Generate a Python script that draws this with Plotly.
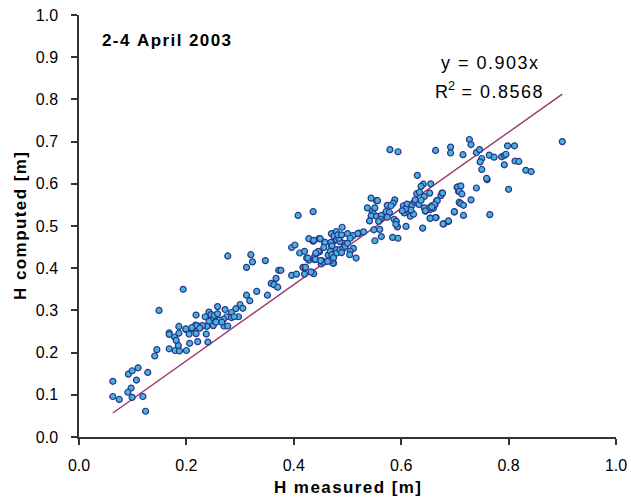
import plotly.graph_objects as go
import numpy as np

# Measured / computed wave heights (m)
pts = [
    # lower-left
    (0.063,0.132),(0.063,0.096),(0.075,0.089),(0.092,0.149),(0.099,0.157),(0.110,0.164),
    (0.107,0.135),(0.097,0.116),(0.091,0.106),(0.099,0.094),(0.119,0.096),(0.128,0.153),
    (0.124,0.061),(0.141,0.192),(0.145,0.207),(0.149,0.300),(0.194,0.350),
    (0.168,0.209),(0.179,0.205),(0.187,0.204),(0.200,0.205),(0.185,0.217),(0.168,0.247),
    (0.168,0.243),(0.178,0.237),(0.181,0.229),(0.186,0.262),(0.186,0.246),(0.199,0.255),
    (0.211,0.257),(0.217,0.265),(0.222,0.263),(0.240,0.225),(0.221,0.226),(0.206,0.222),
    # dense cluster 0.2-0.35
    (0.218,0.289),(0.258,0.309),(0.277,0.429),(0.320,0.432),(0.323,0.415),(0.312,0.402),
    (0.347,0.418),(0.408,0.525),(0.436,0.534),(0.372,0.395),(0.376,0.395),(0.367,0.376),
    (0.358,0.364),(0.363,0.361),(0.370,0.355),(0.331,0.345),(0.312,0.336),(0.318,0.323),
    (0.351,0.336),(0.300,0.314),(0.292,0.304),(0.305,0.305),(0.284,0.295),(0.272,0.302),
    (0.242,0.296),(0.297,0.285),(0.275,0.285),(0.284,0.283),(0.289,0.285),(0.269,0.279),
    (0.261,0.277),(0.250,0.283),(0.246,0.282),(0.235,0.285),(0.242,0.274),(0.250,0.264),
    (0.238,0.262),(0.230,0.264),(0.219,0.264),(0.210,0.259),(0.199,0.256),(0.205,0.244),
    (0.218,0.245),(0.237,0.244),(0.225,0.258),(0.255,0.272),(0.270,0.263),(0.277,0.263),
    (0.266,0.272),(0.246,0.290),(0.252,0.288),(0.258,0.292),
    # 0.39-0.49
    (0.396,0.449),(0.402,0.455),(0.411,0.436),(0.420,0.440),(0.428,0.470),(0.436,0.464),
    (0.447,0.470),(0.457,0.461),(0.424,0.424),(0.428,0.419),(0.439,0.420),(0.443,0.436),
    (0.448,0.439),(0.439,0.428),(0.452,0.418),(0.456,0.415),(0.464,0.431),(0.469,0.440),
    (0.475,0.434),(0.479,0.444),(0.470,0.454),(0.472,0.461),(0.470,0.482),(0.475,0.476),
    (0.479,0.487),(0.480,0.467),(0.484,0.474),(0.451,0.410),(0.474,0.412),(0.417,0.402),
    (0.421,0.402),(0.396,0.383),(0.405,0.386),(0.420,0.386),(0.433,0.391),(0.437,0.387),
    # 0.42-0.53 middle
    (0.521,0.483),(0.530,0.486),(0.519,0.482),(0.510,0.477),(0.500,0.482),(0.490,0.497),
    (0.505,0.471),(0.511,0.447),(0.505,0.440),(0.504,0.432),(0.516,0.424),(0.493,0.459),
    (0.486,0.463),(0.484,0.471),(0.482,0.479),(0.489,0.479),(0.469,0.461),(0.471,0.453),
    (0.468,0.440),(0.471,0.432),(0.473,0.412),(0.468,0.418),(0.474,0.425),(0.480,0.436),
    (0.486,0.444),(0.492,0.447),(0.496,0.452),(0.500,0.459),(0.489,0.437),(0.458,0.461),
    (0.449,0.470),(0.437,0.466),(0.456,0.449),(0.446,0.440),(0.441,0.436),(0.440,0.421),
    (0.426,0.424),(0.455,0.414),(0.450,0.418),(0.463,0.416),(0.422,0.402),(0.432,0.391),
    # 0.53-0.71
    (0.655,0.600),(0.641,0.599),(0.637,0.594),(0.629,0.577),(0.634,0.580),(0.643,0.570),
    (0.653,0.578),(0.676,0.578),(0.674,0.572),(0.704,0.592),(0.707,0.582),(0.544,0.566),
    (0.554,0.560),(0.556,0.560),(0.588,0.562),(0.585,0.554),(0.574,0.549),(0.581,0.548),
    (0.604,0.548),(0.611,0.552),(0.620,0.549),(0.625,0.557),(0.626,0.562),(0.633,0.551),
    (0.637,0.561),(0.657,0.548),(0.660,0.542),(0.663,0.551),(0.666,0.560),(0.654,0.539),
    (0.645,0.535),(0.652,0.543),(0.537,0.543),(0.546,0.535),(0.551,0.543),(0.548,0.529),
    (0.544,0.524),(0.554,0.523),(0.563,0.525),(0.561,0.516),(0.572,0.534),(0.578,0.532),
    (0.574,0.521),(0.558,0.511),(0.541,0.512),(0.549,0.491),(0.560,0.492),(0.551,0.465),
    (0.563,0.475),(0.587,0.516),(0.591,0.511),(0.593,0.498),(0.590,0.504),(0.584,0.473),
    (0.594,0.471),(0.609,0.499),(0.606,0.531),(0.615,0.533),(0.617,0.523),(0.623,0.528),
    (0.618,0.538),(0.608,0.540),(0.602,0.536),(0.640,0.495),(0.654,0.519),(0.665,0.520),
    (0.679,0.505),(0.688,0.511),(0.699,0.533),(0.579,0.681),(0.594,0.676),(0.630,0.620),
    # upper right
    (0.900,0.700),(0.727,0.705),(0.730,0.693),(0.692,0.687),(0.692,0.673),(0.664,0.679),
    (0.715,0.669),(0.740,0.674),(0.746,0.681),(0.750,0.660),(0.747,0.652),(0.750,0.634),
    (0.764,0.668),(0.773,0.663),(0.787,0.664),(0.792,0.667),(0.795,0.670),(0.792,0.645),
    (0.798,0.690),(0.811,0.690),(0.812,0.654),(0.819,0.653),(0.832,0.632),(0.842,0.629),
    (0.800,0.587),(0.760,0.610),(0.759,0.613),(0.765,0.527),(0.740,0.590),(0.730,0.562),
    (0.716,0.525),(0.705,0.592),(0.711,0.595),(0.708,0.582),(0.713,0.576),(0.708,0.556),
    (0.711,0.553),(0.716,0.549),(0.699,0.534),(0.688,0.512),(0.678,0.505),(0.664,0.520),
    (0.654,0.518),(0.677,0.578),(0.667,0.560),(0.662,0.551),(0.657,0.545),(0.643,0.543),
    (0.645,0.536),
]
h_measured = [p[0] for p in pts]
h_computed = [p[1] for p in pts]

slope = 0.903
r2 = 0.8568
x_ticks = [0.0, 0.2, 0.4, 0.6, 0.8, 1.0]
y_ticks = [round(0.1 * i, 1) for i in range(11)]
x_tick_text = ["%.1f" % v for v in x_ticks]
y_tick_text = ["%.1f" % v for v in y_ticks]


def spaced(s):
    """Slight letter spacing using hair spaces."""
    return "\u200a".join(s)


xl = np.array([min(h_measured), max(h_measured)])

fig = go.Figure()
fig.add_trace(go.Scatter(
    x=xl, y=slope * xl, mode="lines",
    line=dict(color="#9b3a6d", width=1.5), hoverinfo="skip", showlegend=False))
fig.add_trace(go.Scatter(
    x=h_measured, y=h_computed, mode="markers",
    marker=dict(size=6, color="#45b2e2", line=dict(color="#2b3585", width=1.2)),
    showlegend=False))

font_family = "Liberation Sans, Arial, sans-serif"
axis_common = dict(range=[0, 1], showgrid=False, zeroline=False, showline=True,
                   linecolor="#333", linewidth=1.5, ticks="outside", ticklen=6,
                   tickcolor="#333", tickwidth=1.5, tickfont=dict(size=16),
                   automargin=False)
fig.update_layout(
    width=631, height=502,
    margin=dict(l=79, r=15, t=15, b=65),
    plot_bgcolor="white", paper_bgcolor="white",
    font=dict(family=font_family, color="black", size=16),
    xaxis=dict(**axis_common, tickvals=x_ticks, ticktext=x_tick_text,
               ticklabelstandoff=7,
               title=dict(text="<b>" + spaced("H measured [m]") + "</b>",
                          font=dict(size=17), standoff=8)),
    yaxis=dict(**axis_common, tickvals=y_ticks, ticktext=y_tick_text,
               ticklabelstandoff=10,
               title=dict(text="<b>" + spaced("H computed [m]") + "</b>",
                          font=dict(size=17), standoff=5)),
    annotations=[
        dict(text="<b>" + spaced("2-4 April 2003") + "</b>", x=0.04, y=0.939,
             xref="x", yref="y", xanchor="left", yanchor="middle",
             showarrow=False, font=dict(size=17)),
        dict(text=spaced("y = 0.903x"), x=0.765, y=0.887, xref="x", yref="y",
             xanchor="center", yanchor="middle", showarrow=False, font=dict(size=18)),
        dict(text="R<sup>2</sup>" + spaced(" = %.4f" % r2), x=0.763, y=0.82,
             xref="x", yref="y", xanchor="center", yanchor="middle",
             showarrow=False, font=dict(size=18)),
    ],
)
fig.write_html("out.html")
